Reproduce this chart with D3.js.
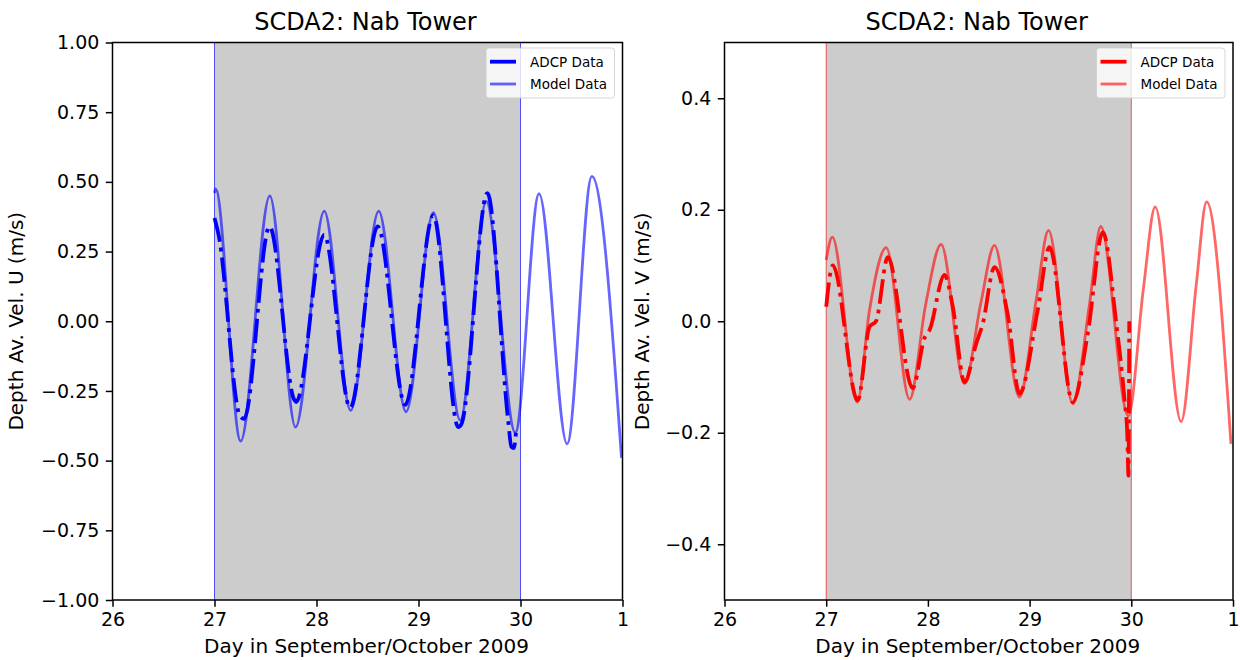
<!DOCTYPE html>
<html>
<head>
<meta charset="utf-8">
<script src="https://cdn.jsdelivr.net/npm/d3@7"></script>
<style>
  body { margin: 0; background: #fff; }
  svg { display: block; font-family: "DejaVu Sans", sans-serif; }
</style>
</head>
<body>
<svg id="chart" width="1240" height="660"></svg>
<script>
// ---- data ----
const xTicks      = [26, 27, 28, 29, 30, 31];
const xTickLabels = ["26", "27", "28", "29", "30", "1"];
const shadeDays   = [27, 30];

const uTicks = [-1, -0.75, -0.5, -0.25, 0, 0.25, 0.5, 0.75, 1];
const vTicks = [-0.4, -0.2, 0, 0.2, 0.4];

// U component, model (extrema)
const uModelDay = [27.0, 27.01, 27.257, 27.542, 27.795, 28.076, 28.335, 28.61, 28.878, 29.146, 29.409, 29.664, 29.949, 30.182, 30.457, 30.70, 30.99];
const uModelVal = [0.46, 0.475, -0.43, 0.45, -0.38, 0.395, -0.32, 0.395, -0.325, 0.39, -0.355, 0.43, -0.40, 0.458, -0.44, 0.52, -0.49];

// U component, ADCP
const uAdcpDay = [27.0, 27.04, 27.25, 27.29, 27.54, 27.78, 27.80, 28.075, 28.33, 28.6, 28.87, 29.145, 29.39, 29.42, 29.675, 29.88, 29.91, 29.935, 29.955];
const uAdcpVal = [0.37, 0.31, -0.34, -0.35, 0.34, -0.28, -0.29, 0.31, -0.31, 0.34, -0.30, 0.38, -0.38, -0.37, 0.46, -0.36, -0.45, -0.455, -0.40];

// V component, model
const vModelDay = [27.0, 27.06, 27.305, 27.426, 27.59, 27.82, 27.98, 28.13, 28.36, 28.52, 28.655, 28.90, 29.065, 29.186, 29.425, 29.59, 29.70, 29.97, 30.12, 30.235, 30.49, 30.64, 30.74, 30.98];
const vModelVal = [0.11, 0.151, -0.145, 0.02, 0.132, -0.14, 0.032, 0.138, -0.112, 0.032, 0.136, -0.136, 0.038, 0.163, -0.148, 0.032, 0.17, -0.17, 0.06, 0.205, -0.18, 0.068, 0.214, -0.22];

// V component, ADCP
const vAdcpDay = [27.0, 27.065, 27.31, 27.426, 27.49, 27.606, 27.85, 27.967, 28.016, 28.163, 28.245, 28.36, 28.475, 28.54, 28.655, 28.786, 28.90, 29.08, 29.196, 29.425, 29.572, 29.72, 29.85, 29.933, 29.96, 29.972, 29.98];
const vAdcpVal = [0.026, 0.10, -0.142, -0.01, 0.0, 0.115, -0.12, -0.03, -0.016, 0.083, 0.026, -0.109, -0.04, -0.004, 0.097, 0.011, -0.13, 0.02, 0.133, -0.145, -0.022, 0.16, 0.0, -0.14, -0.2, -0.277, 0.0];

const svg = d3.select("#chart");
const pTop = 42.5, pBot = 600;

const panels = [
  { left: 112.5, right: 622.5, domain: [-1, 1], ticks: uTicks, fmt: d3.format(".2f"),
    color: "blue", label: "Depth Av. Vel. U (m/s)", labelX: 23,
    model: d3.zip(uModelDay, uModelVal), adcp: d3.zip(uAdcpDay, uAdcpVal) },
  { left: 724.5, right: 1233, domain: [-0.5, 0.5], ticks: vTicks, fmt: d3.format(".1f"),
    color: "red", label: "Depth Av. Vel. V (m/s)", labelX: 649,
    model: d3.zip(vModelDay, vModelVal), adcp: d3.zip(vAdcpDay, vAdcpVal) }
];

panels.forEach((p, i) => {
  const x = d3.scaleLinear().domain([26, 31]).range([p.left, p.right]);
  const y = d3.scaleLinear().domain(p.domain).range([pBot, pTop]);
  const g = svg.append("g");

  g.append("clipPath").attr("id", "clip" + i)
    .append("rect").attr("x", p.left).attr("y", pTop)
    .attr("width", p.right - p.left).attr("height", pBot - pTop);

  // shaded window + edge lines
  g.append("rect")
    .attr("x", x(shadeDays[0])).attr("y", pTop)
    .attr("width", x(shadeDays[1]) - x(shadeDays[0])).attr("height", pBot - pTop)
    .attr("fill", "#cccccc");
  shadeDays.forEach(d => {
    g.append("line").attr("x1", x(d)).attr("x2", x(d)).attr("y1", pTop).attr("y2", pBot)
      .attr("stroke", p.color).attr("stroke-opacity", 0.65).attr("stroke-width", 1);
  });

  const line = d3.line().x(d => x(d[0])).y(d => y(d[1])).curve(d3.curveMonotoneX);
  const lines = g.append("g").attr("clip-path", `url(#clip${i})`);

  lines.append("path").datum(p.adcp).attr("d", line).attr("fill", "none")
    .attr("stroke", p.color).attr("stroke-width", 3.8)
    .attr("stroke-dasharray", "24.3,6.1,3.8,6.1");
  lines.append("path").datum(p.model).attr("d", line).attr("fill", "none")
    .attr("stroke", p.color).attr("stroke-opacity", 0.6).attr("stroke-width", 2.8);

  // axes
  const xAxis = d3.axisBottom(x).tickValues(xTicks)
    .tickFormat((d, k) => xTickLabels[k]).tickSize(6.7).tickPadding(5);
  const gx = g.append("g").attr("transform", `translate(0,${pBot})`).call(xAxis);
  const yAxis = d3.axisLeft(y).tickValues(p.ticks).tickFormat(p.fmt).tickSize(6.7).tickPadding(6.5);
  const gy = g.append("g").attr("transform", `translate(${p.left},0)`).call(yAxis);
  [gx, gy].forEach(a => {
    a.select(".domain").remove();
    a.selectAll("line").attr("stroke", "#000").attr("stroke-width", 1.5);
    a.selectAll("text").attr("fill", "#000").attr("font-size", 19)
      .attr("font-family", "DejaVu Sans, sans-serif");
  });
  gx.selectAll("text").attr("dy", "0.76em");

  // frame
  g.append("rect").attr("x", p.left).attr("y", pTop)
    .attr("width", p.right - p.left).attr("height", pBot - pTop)
    .attr("fill", "none").attr("stroke", "#000").attr("stroke-width", 1.5);

  // labels
  const cx = (p.left + p.right) / 2;
  g.append("text").attr("x", cx - 2).attr("y", 30).attr("text-anchor", "middle")
    .attr("font-size", 24).attr("fill", "#000").text("SCDA2: Nab Tower");
  g.append("text").attr("x", cx - 1).attr("y", 653).attr("text-anchor", "middle")
    .attr("font-size", 20).attr("fill", "#000").text("Day in September/October 2009");
  g.append("text").attr("transform", `translate(${p.labelX},${(pTop + pBot) / 2}) rotate(-90)`)
    .attr("text-anchor", "middle").attr("font-size", 20).attr("fill", "#000").text(p.label);

  // legend
  const lx = p.right - 136.5, ly = 48;
  const lg = g.append("g").attr("transform", `translate(${lx},${ly})`);
  lg.append("rect").attr("width", 128.5).attr("height", 50).attr("rx", 3)
    .attr("fill", "#fff").attr("fill-opacity", 0.8)
    .attr("stroke", "#cccccc").attr("stroke-opacity", 0.8);
  const items = [
    { name: "ADCP Data", w: 3.8, op: 1 },
    { name: "Model Data", w: 2.8, op: 0.6 }
  ];
  items.forEach((it, k) => {
    const yy = 13.7 + k * 22.3;
    lg.append("line").attr("x1", 4).attr("x2", 30).attr("y1", yy).attr("y2", yy)
      .attr("stroke", p.color).attr("stroke-opacity", it.op).attr("stroke-width", it.w);
    lg.append("text").attr("x", 44).attr("y", yy + 4.8).attr("font-size", 13.5)
      .attr("fill", "#000").text(it.name);
  });
});
</script>
</body>
</html>
